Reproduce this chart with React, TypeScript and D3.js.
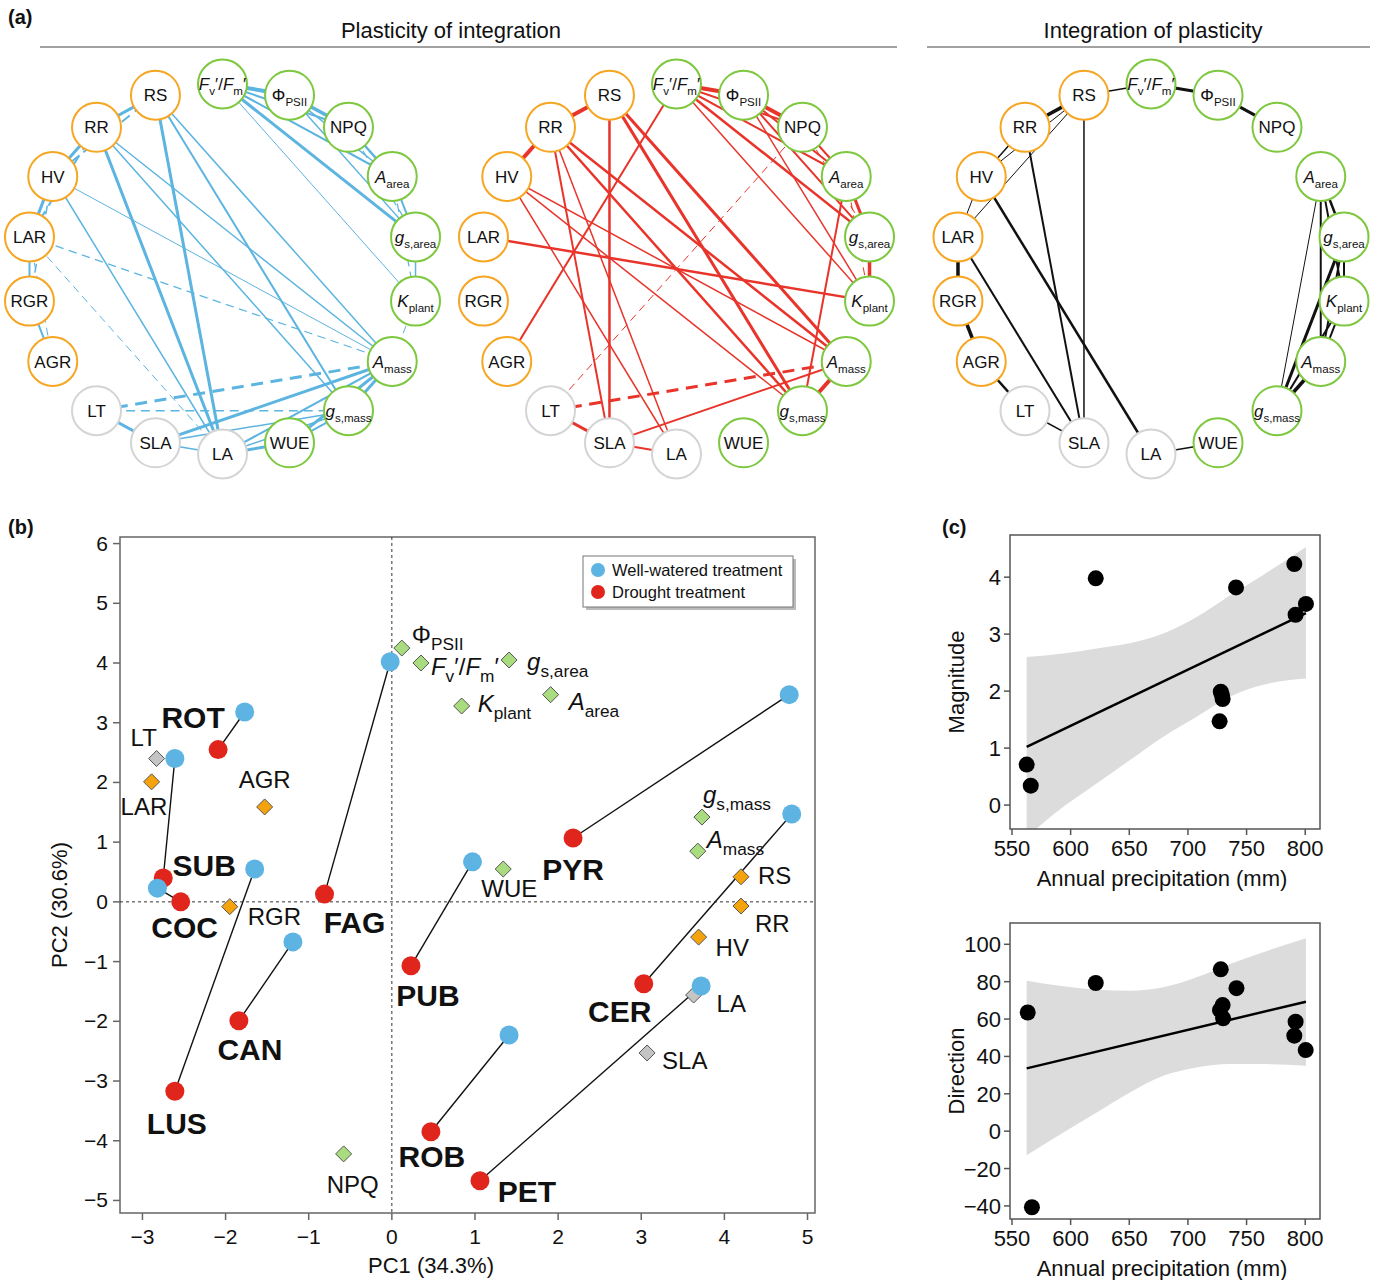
import React from 'react';
import * as d3 from 'd3';

const FONT = "'Liberation Sans', Arial, Helvetica, sans-serif";

// ---------------- Panel (a) data ----------------
const NODES = ['Fv', 'PSII', 'NPQ', 'Aarea', 'gsarea', 'Kplant', 'Amass', 'gsmass', 'WUE', 'LA', 'SLA', 'LT', 'AGR', 'RGR', 'LAR', 'HV', 'RR', 'RS'];
const NODE_GROUP = ['g', 'g', 'g', 'g', 'g', 'g', 'g', 'g', 'g', 'x', 'x', 'x', 'o', 'o', 'o', 'o', 'o', 'o'];

type Edge = [string, string, number, number]; // source, target, weight, dashed

const EDGES_WELL: Edge[] = [
  ['Fv', 'PSII', 4, 0], ['PSII', 'NPQ', 3.5, 0], ['Fv', 'NPQ', 2, 0], ['Fv', 'Aarea', 2, 0],
  ['Fv', 'gsarea', 3, 0], ['Fv', 'Kplant', 1, 0], ['PSII', 'Aarea', 1.5, 0], ['PSII', 'gsarea', 1.5, 0],
  ['NPQ', 'Aarea', 2.5, 0], ['NPQ', 'gsarea', 1.2, 1], ['Aarea', 'gsarea', 2, 0], ['Aarea', 'Kplant', 1.2, 1],
  ['gsarea', 'Kplant', 1.5, 0], ['Kplant', 'Amass', 1, 1],
  ['RS', 'RR', 3, 0], ['RS', 'HV', 2, 1], ['RR', 'HV', 3, 0], ['RR', 'LAR', 2, 1], ['HV', 'LAR', 3, 0],
  ['HV', 'RGR', 1.5, 1], ['LAR', 'RGR', 2, 0], ['RGR', 'AGR', 2, 0], ['LAR', 'AGR', 1, 1],
  ['LAR', 'Amass', 1.2, 1], ['LAR', 'LA', 1, 1], ['HV', 'LA', 1.5, 0], ['HV', 'Amass', 1, 0],
  ['RR', 'LA', 3, 0], ['RR', 'Amass', 1.5, 0], ['RR', 'gsmass', 1.5, 0],
  ['RS', 'LA', 3, 0], ['RS', 'gsmass', 2, 0], ['RS', 'Amass', 1.5, 0],
  ['LT', 'SLA', 3, 0], ['LT', 'Amass', 3, 1], ['LT', 'gsmass', 1.5, 1],
  ['SLA', 'Amass', 3, 0], ['SLA', 'gsmass', 1.5, 0], ['SLA', 'LA', 1.5, 0],
  ['LA', 'Amass', 2, 0], ['LA', 'gsmass', 1.5, 0], ['LA', 'WUE', 3, 0],
  ['WUE', 'Amass', 3, 0], ['gsmass', 'Amass', 3, 0], ['WUE', 'gsmass', 2, 0],
];

const EDGES_DROUGHT: Edge[] = [
  ['Fv', 'PSII', 4, 0], ['PSII', 'NPQ', 4, 0], ['Fv', 'NPQ', 2, 0], ['Fv', 'Aarea', 2, 0],
  ['Fv', 'gsarea', 2.5, 0], ['Fv', 'Kplant', 1.5, 0], ['PSII', 'Aarea', 2, 0], ['PSII', 'gsarea', 2, 0],
  ['PSII', 'Kplant', 1.5, 0], ['NPQ', 'Aarea', 2, 0], ['NPQ', 'gsarea', 1, 1], ['Aarea', 'gsarea', 3, 0],
  ['gsarea', 'Kplant', 3.5, 0], ['Aarea', 'Kplant', 1, 1], ['Aarea', 'gsmass', 2, 0], ['Amass', 'gsmass', 4, 0],
  ['NPQ', 'LT', 1, 1], ['Fv', 'AGR', 2, 0],
  ['RS', 'RR', 4, 0], ['RR', 'HV', 4, 0], ['RS', 'SLA', 2.5, 0], ['RS', 'Amass', 3, 0], ['RS', 'gsmass', 3, 0],
  ['RR', 'SLA', 2, 0], ['RR', 'LA', 1.5, 0], ['RR', 'Amass', 2.5, 0], ['RR', 'gsmass', 2.5, 0],
  ['HV', 'Amass', 1.5, 0], ['HV', 'gsmass', 1.5, 0], ['HV', 'LA', 1.5, 0], ['LAR', 'Kplant', 2.5, 0],
  ['LT', 'Amass', 3, 1], ['LT', 'SLA', 3, 0], ['SLA', 'Amass', 2, 0], ['SLA', 'LA', 2, 0],
];

const EDGES_PLAST: Edge[] = [
  ['RS', 'Fv', 1.5, 0], ['Fv', 'PSII', 3, 0], ['PSII', 'NPQ', 3, 0],
  ['RS', 'RR', 3.5, 0], ['RS', 'HV', 1, 0], ['RS', 'LAR', 1, 0], ['RR', 'HV', 1.5, 0], ['HV', 'LAR', 1, 0],
  ['LAR', 'RGR', 3.5, 0], ['RGR', 'AGR', 3.5, 0], ['AGR', 'LT', 2.5, 0], ['LT', 'SLA', 1.5, 0],
  ['RS', 'SLA', 1.5, 0], ['RR', 'SLA', 2, 0], ['LAR', 'SLA', 2, 0], ['HV', 'LA', 2.5, 0], ['LA', 'WUE', 1.5, 0],
  ['Aarea', 'gsmass', 1, 0], ['Aarea', 'gsarea', 2.5, 0], ['Aarea', 'Kplant', 2, 0], ['Aarea', 'Amass', 2, 0],
  ['gsarea', 'Kplant', 2, 0], ['gsarea', 'Amass', 2, 0], ['gsarea', 'gsmass', 3, 0],
  ['Kplant', 'Amass', 2, 0], ['Kplant', 'gsmass', 2, 0], ['Amass', 'gsmass', 3.5, 0],
];

// ---------------- Panel (b) data ----------------
const SPECIES = ['ROT', 'SUB', 'COC', 'LUS', 'CAN', 'FAG', 'PUB', 'PYR', 'CER', 'ROB', 'PET'];
const WELL_PC1 = [-1.77, -2.61, -2.82, -1.65, -1.19, -0.02, 0.97, 4.78, 4.81, 1.41, 3.72];
const WELL_PC2 = [3.18, 2.40, 0.23, 0.55, -0.67, 4.02, 0.67, 3.47, 1.47, -2.23, -1.41];
const DRY_PC1 = [-2.09, -2.75, -2.54, -2.61, -1.84, -0.81, 0.23, 2.18, 3.03, 0.47, 1.06];
const DRY_PC2 = [2.55, 0.40, 0.0, -3.17, -1.99, 0.13, -1.07, 1.07, -1.37, -3.85, -4.67];

const TRAITS = ['LT', 'LAR', 'AGR', 'RGR', 'PSII', 'Fv', 'gsarea', 'Kplant', 'Aarea', 'gsmass', 'Amass', 'WUE', 'RS', 'RR', 'HV', 'LA', 'SLA', 'NPQ'];
const TRAIT_PC1 = [-2.83, -2.89, -1.53, -1.95, 0.12, 0.35, 1.41, 0.84, 1.91, 3.73, 3.68, 1.34, 4.20, 4.20, 3.69, 3.63, 3.07, -0.58];
const TRAIT_PC2 = [2.40, 2.01, 1.59, -0.08, 4.25, 4.00, 4.05, 3.28, 3.47, 1.42, 0.85, 0.55, 0.42, -0.07, -0.59, -1.56, -2.53, -4.22];

const PC_X_TICKS = [-3, -2, -1, 0, 1, 2, 3, 4, 5];
const PC_Y_TICKS = [-5, -4, -3, -2, -1, 0, 1, 2, 3, 4, 5, 6];

// ---------------- Panel (c) data ----------------
const MAG_PRECIP = [562.5, 566, 621.4, 741, 790.7, 800.6, 791.8, 728, 729.6, 727, 729];
const MAGNITUDE = [0.71, 0.34, 3.98, 3.82, 4.23, 3.53, 3.34, 1.99, 1.86, 1.47, 1.93];
const DIR_PRECIP = [563.4, 567, 621.4, 728, 741.4, 727.3, 729.6, 730, 791.8, 790.7, 800.4];
const DIRECTION = [63.5, -40.7, 79.3, 86.6, 76.5, 64.8, 67.5, 60.4, 58.6, 51.1, 43.4];

const FIT_X = [562.5, 800.6];
const MAG_FIT = [1.02, 3.37];
const DIR_FIT = [33.6, 69.3];

const BAND_X = [562.5, 593.8, 622.2, 650.6, 679, 707.4, 735.8, 764.2, 800.6];
const MAG_UP = [2.60, 2.66, 2.75, 2.84, 3.01, 3.30, 3.68, 4.04, 4.53];
const MAG_LO = [-0.56, -0.03, 0.38, 0.79, 1.20, 1.55, 1.90, 2.11, 2.22];
const DIR_UP = [80.5, 77.5, 75.7, 75.2, 77.0, 82.4, 89.5, 95.8, 103.3];
const DIR_LO = [-12.9, -0.7, 10.0, 20.7, 29.6, 34.1, 35.9, 35.9, 35.0];

const PRECIP_TICKS = [550, 600, 650, 700, 750, 800];
const MAG_TICKS = [0, 1, 2, 3, 4];
const DIR_TICKS = [-40, -20, 0, 20, 40, 60, 80, 100];

// ---------------- styling / layout ----------------
const GROUP_STROKE: Record<string, string> = { g: '#7dc83e', x: '#d4d4d4', o: '#f6a623' };
const GROUP_FILL: Record<string, string> = { g: '#a9dc7e', x: '#c4c4c4', o: '#f5a30c' };
const BLUE = '#5db3e1';
const RED = '#e0261c';

const LABEL_PARTS: Record<string, [string, string][]> = {
  Fv: [['F', 'i'], ['v', 's'], ['\u2032/', 'n'], ['F', 'i'], ['m', 's'], ['\u2032', 'n']],
  PSII: [['\u03A6', 'n'], ['PSII', 's']],
  Aarea: [['A', 'i'], ['area', 's']],
  gsarea: [['g', 'i'], ['s,area', 's']],
  Kplant: [['K', 'i'], ['plant', 's']],
  Amass: [['A', 'i'], ['mass', 's']],
  gsmass: [['g', 'i'], ['s,mass', 's']],
};

// species label offset (px) from drought point
const SPECIES_LABEL_OFF: [number, number][] = [
  [-25, -32], [41, -12], [4, 26], [2, 32], [11, 29], [30, 28], [17, 30], [0, 32], [-24, 28], [1, 25], [47, 11],
];
// trait label offset (px) from diamond (text start, baseline)
const TRAIT_LABEL_OFF: [number, number][] = [
  [-26, -13], [-31, 33], [-26, -19], [18, 18], [10, -5], [10, 12], [18, 10], [16, 6], [18, 15],
  [1, -14], [9, -3], [-22, 28], [17, 7], [14, 26], [17, 19], [23, 17], [15, 16], [-17, 39],
];

function RichLabel({ name, x, y, size, anchor = 'middle', subRatio = 0.68 }: any) {
  const parts = LABEL_PARTS[name] || [[name, 'n']];
  let cur = 0;
  const subSize = size * subRatio;
  const subShift = size * 0.3;
  return (
    <text x={x} y={y} fontSize={size} textAnchor={anchor} fontFamily={FONT} fill="#111">
      {parts.map(([t, s], k) => {
        const target = s === 's' ? subShift : 0;
        const dy = target - cur;
        cur = target;
        return (
          <tspan key={k} dy={dy} fontSize={s === 's' ? subSize : size} fontStyle={s === 'i' ? 'italic' : 'normal'}>
            {t}
          </tspan>
        );
      })}
    </text>
  );
}

const RX = 196;
const RY = 185;

function Network({ cx, cy, edges, color }: { cx: number; cy: number; edges: Edge[]; color: string }) {
  const ang = d3.scaleLinear().domain([0, NODES.length]).range([-Math.PI / 2, 1.5 * Math.PI]);
  const pos = (name: string): [number, number] => {
    const a = ang(NODES.indexOf(name));
    return [cx + RX * Math.cos(a), cy + RY * Math.sin(a)];
  };
  return (
    <g>
      {edges.map(([s, t, w, d], k) => {
        const [x1, y1] = pos(s);
        const [x2, y2] = pos(t);
        return (
          <line key={k} x1={x1} y1={y1} x2={x2} y2={y2} stroke={color} strokeWidth={w}
            strokeDasharray={d ? `${6 + w * 2},${4 + w * 1.2}` : undefined} />
        );
      })}
      {NODES.map((n, i) => {
        const [x, y] = pos(n);
        return (
          <g key={n}>
            <circle cx={x} cy={y} r={24.5} fill="#fff" stroke={GROUP_STROKE[NODE_GROUP[i]]} strokeWidth={2} />
            <RichLabel name={n} x={x} y={y + 6} size={17} />
          </g>
        );
      })}
    </g>
  );
}

function PCA() {
  const x = d3.scaleLinear().domain([-3.27, 5.09]).range([120, 815]);
  const y = d3.scaleLinear().domain([-5.21, 6.11]).range([1213, 537]);
  const frame = '#666';
  return (
    <g fontFamily={FONT}>
      <rect x={120} y={537} width={695} height={676} fill="none" stroke={frame} strokeWidth={1.5} />
      <line x1={x(0)} x2={x(0)} y1={537} y2={1213} stroke="#333" strokeDasharray="3,3" strokeWidth={1} />
      <line x1={120} x2={815} y1={y(0)} y2={y(0)} stroke="#333" strokeDasharray="3,3" strokeWidth={1} />
      {PC_X_TICKS.map((t) => (
        <g key={t}>
          <line x1={x(t)} x2={x(t)} y1={1213} y2={1220} stroke={frame} strokeWidth={1.5} />
          <text x={x(t)} y={1244} fontSize={21} textAnchor="middle" fill="#111">{String(t).replace('-', '\u2212')}</text>
        </g>
      ))}
      {PC_Y_TICKS.map((t) => (
        <g key={t}>
          <line x1={113} x2={120} y1={y(t)} y2={y(t)} stroke={frame} strokeWidth={1.5} />
          <text x={108} y={y(t) + 7} fontSize={21} textAnchor="end" fill="#111">{String(t).replace('-', '\u2212')}</text>
        </g>
      ))}
      <text x={431} y={1273} fontSize={22} textAnchor="middle" fill="#111">PC1 (34.3%)</text>
      <text transform="translate(67,905) rotate(-90)" fontSize={22} textAnchor="middle" fill="#111">PC2 (30.6%)</text>

      {SPECIES.map((s, i) => (
        <line key={s} x1={x(WELL_PC1[i])} y1={y(WELL_PC2[i])} x2={x(DRY_PC1[i])} y2={y(DRY_PC2[i])} stroke="#111" strokeWidth={1.4} />
      ))}
      {TRAITS.map((t, i) => {
        const cx = x(TRAIT_PC1[i]);
        const cy = y(TRAIT_PC2[i]);
        const g = NODE_GROUP[NODES.indexOf(t)];
        const h = 8;
        return (
          <path key={t} d={`M${cx},${cy - h}L${cx + h},${cy}L${cx},${cy + h}L${cx - h},${cy}Z`}
            fill={GROUP_FILL[g]} stroke="#555" strokeWidth={1} />
        );
      })}
      {SPECIES.map((s, i) => (
        <g key={s}>
          <circle cx={x(WELL_PC1[i])} cy={y(WELL_PC2[i])} r={9.5} fill={BLUE} />
          <circle cx={x(DRY_PC1[i])} cy={y(DRY_PC2[i])} r={9.5} fill={RED} />
        </g>
      ))}
      {TRAITS.map((t, i) => (
        <RichLabel key={t} name={t} x={x(TRAIT_PC1[i]) + TRAIT_LABEL_OFF[i][0]} y={y(TRAIT_PC2[i]) + TRAIT_LABEL_OFF[i][1]}
          size={24} anchor="start" subRatio={0.72} />
      ))}
      {SPECIES.map((s, i) => (
        <text key={s} x={x(DRY_PC1[i]) + SPECIES_LABEL_OFF[i][0]} y={y(DRY_PC2[i]) + SPECIES_LABEL_OFF[i][1] + 10.5}
          fontSize={30} fontWeight="bold" textAnchor="middle" fill="#111">{s}</text>
      ))}
      {/* legend */}
      <rect x={586} y={559} width={210} height={51} fill="#bbb" />
      <rect x={583} y={556} width={210} height={51} fill="#fff" stroke="#777" strokeWidth={1} />
      <circle cx={598} cy={570} r={7} fill={BLUE} />
      <text x={612} y={576} fontSize={16.5} fill="#111">Well-watered treatment</text>
      <circle cx={598} cy={592} r={7} fill={RED} />
      <text x={612} y={598} fontSize={16.5} fill="#111">Drought treatment</text>
    </g>
  );
}

function RegPanel({ top, bottom, ydom, ticks, xs, ys, up, lo, fit, label }: any) {
  const x = d3.scaleLinear().domain([548.3, 812.6]).range([1010, 1320]);
  const y = d3.scaleLinear().domain(ydom).range([bottom, top]);
  const area = d3.area<number>().x((_, i) => x(BAND_X[i])).y0((_, i) => y(lo[i])).y1((d) => y(d)).curve(d3.curveMonotoneX);
  const line = d3.line<number>().x((_, i) => x(FIT_X[i])).y((d) => y(d));
  const clipId = `clip-${label}`;
  const frame = '#555';
  return (
    <g fontFamily={FONT}>
      <defs>
        <clipPath id={clipId}><rect x={1010} y={top} width={310} height={bottom - top} /></clipPath>
      </defs>
      <path d={area(up) || ''} fill="#dcdcdc" clipPath={`url(#${clipId})`} />
      <path d={line(fit) || ''} stroke="#000" strokeWidth={2.5} fill="none" />
      {xs.map((v: number, i: number) => (
        <circle key={i} cx={x(v)} cy={y(ys[i])} r={8} fill="#000" />
      ))}
      <rect x={1010} y={top} width={310} height={bottom - top} fill="none" stroke={frame} strokeWidth={1.5} />
      {PRECIP_TICKS.map((t) => (
        <g key={t}>
          <line x1={x(t)} x2={x(t)} y1={bottom} y2={bottom + 6} stroke={frame} strokeWidth={1.5} />
          <text x={x(t)} y={bottom + 27} fontSize={22} textAnchor="middle" fill="#111">{t}</text>
        </g>
      ))}
      {ticks.map((t: number) => (
        <g key={t}>
          <line x1={1004} x2={1010} y1={y(t)} y2={y(t)} stroke={frame} strokeWidth={1.5} />
          <text x={1001} y={y(t) + 8} fontSize={22} textAnchor="end" fill="#111">{String(t).replace('-', '\u2212')}</text>
        </g>
      ))}
      <text x={1162} y={bottom + 57} fontSize={22} textAnchor="middle" fill="#111">Annual precipitation (mm)</text>
      <text transform={`translate(964,${(top + bottom) / 2}) rotate(-90)`} fontSize={22} textAnchor="middle" fill="#111">{label}</text>
    </g>
  );
}

export default function App() {
  return (
    <svg width={1381} height={1280} style={{ position: 'absolute', left: 0, top: 0, background: '#fff' }}
      xmlns="http://www.w3.org/2000/svg">
      <rect width={1381} height={1280} fill="#fff" />
      <g fontFamily={FONT} fill="#111">
        <text x={8} y={24} fontSize={20} fontWeight="bold">(a)</text>
        <text x={8} y={534} fontSize={20} fontWeight="bold">(b)</text>
        <text x={942} y={534} fontSize={20} fontWeight="bold">(c)</text>
        <text x={451} y={38} fontSize={22} textAnchor="middle">Plasticity of integration</text>
        <text x={1153} y={38} fontSize={22} textAnchor="middle">Integration of plasticity</text>
      </g>
      <line x1={40} x2={897} y1={47} y2={47} stroke="#444" strokeWidth={1.2} />
      <line x1={927} x2={1370} y1={47} y2={47} stroke="#444" strokeWidth={1.2} />
      <Network cx={222.5} cy={269} edges={EDGES_WELL} color="#5cb4e0" />
      <Network cx={676.5} cy={269} edges={EDGES_DROUGHT} color="#e8342a" />
      <Network cx={1151} cy={269} edges={EDGES_PLAST} color="#111" />
      <PCA />
      <RegPanel top={535} bottom={829} ydom={[-0.42, 4.74]} ticks={MAG_TICKS} xs={MAG_PRECIP} ys={MAGNITUDE}
        up={MAG_UP} lo={MAG_LO} fit={MAG_FIT} label="Magnitude" />
      <RegPanel top={923} bottom={1219} ydom={[-47, 111.4]} ticks={DIR_TICKS} xs={DIR_PRECIP} ys={DIRECTION}
        up={DIR_UP} lo={DIR_LO} fit={DIR_FIT} label="Direction" />
    </svg>
  );
}
